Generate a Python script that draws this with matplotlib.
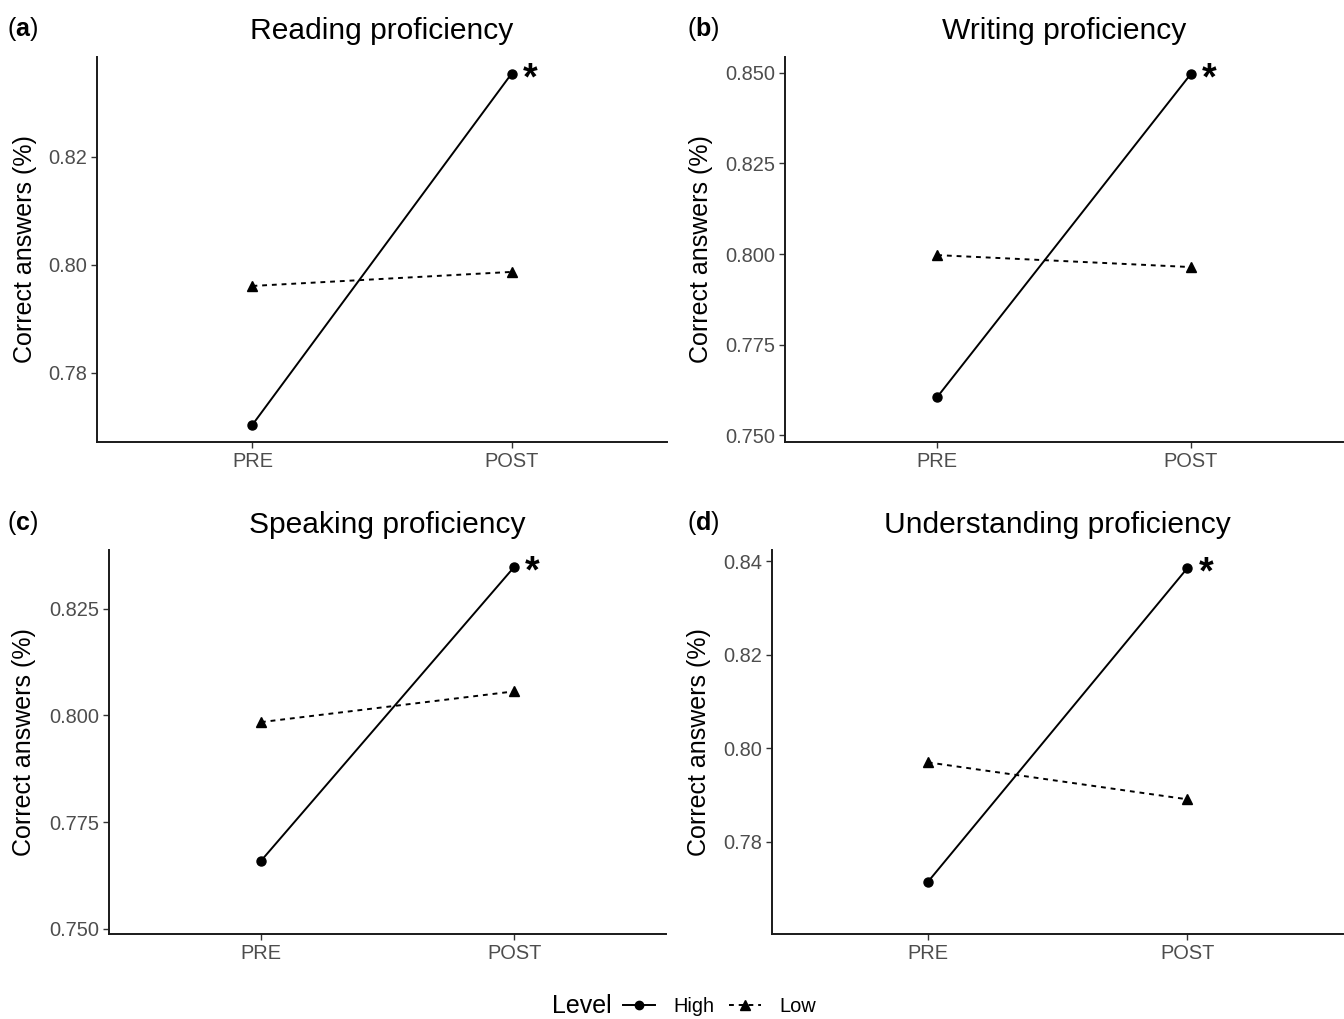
import matplotlib
matplotlib.use("Agg")
import matplotlib.pyplot as plt
from matplotlib.lines import Line2D

plt.rcParams['font.family'] = ['Liberation Sans', 'DejaVu Sans']
plt.rcParams['mathtext.fontset'] = 'custom'
plt.rcParams['mathtext.rm'] = 'Liberation Sans'
plt.rcParams['mathtext.bf'] = 'Liberation Sans:bold'

# ---- data ----
categories = ["PRE", "POST"]
titles = ["Reading proficiency", "Writing proficiency",
          "Speaking proficiency", "Understanding proficiency"]
panel_letters = ["a", "b", "c", "d"]

reading_high = [0.7704, 0.8354]
reading_low = [0.7961, 0.7987]
writing_high = [0.7605, 0.8497]
writing_low = [0.7997, 0.7964]
speaking_high = [0.7659, 0.8347]
speaking_low = [0.7984, 0.8056]
understanding_high = [0.7714, 0.8385]
understanding_low = [0.7970, 0.7891]

high_series = [reading_high, writing_high, speaking_high, understanding_high]
low_series = [reading_low, writing_low, speaking_low, understanding_low]

yticks_a = [0.78, 0.80, 0.82]
yticks_b = [0.750, 0.775, 0.800, 0.825, 0.850]
yticks_c = [0.750, 0.775, 0.800, 0.825]
yticks_d = [0.78, 0.80, 0.82, 0.84]
yticks_all = [yticks_a, yticks_b, yticks_c, yticks_d]
ytick_fmt = ["{:.2f}", "{:.3f}", "{:.3f}", "{:.2f}"]
ylims = [(0.7672, 0.8385), (0.7481, 0.8544), (0.7488, 0.8387), (0.7603, 0.8424)]

# ---- layout (pixels of a 1344x1019 figure) ----
W, H = 1344, 1019
fig = plt.figure(figsize=(W / 100, H / 100), dpi=100)
boxes_px = [(97, 667, 57, 442), (785, 1343, 57, 442),
            (109, 666, 550, 934), (772, 1343, 550, 934)]
ylabel_x = [-0.105, -0.129, -0.131, -0.107]
title_y_px = [31, 31, 525, 525]
letter_y_px = [29, 29, 523, 523]
letter_x_px = [7, 687, 7, 687]

tick_color = "#4d4d4d"
for i in range(4):
    l, r, t, b = boxes_px[i]
    ax = fig.add_axes([l / W, 1 - b / H, (r - l) / W, (b - t) / H])
    x = list(range(1, len(categories) + 1))
    ax.plot(x, high_series[i], color="black", lw=1.4, ls="-",
            marker="o", ms=6.5, label="High")
    ax.plot(x, low_series[i], color="black", lw=1.4, ls=(0, (2.5, 2.5)),
            marker="^", ms=7, label="Low")
    ax.annotate("*", xy=(x[1], high_series[i][1]), xytext=(8, -4),
                textcoords="offset points", ha="left", va="center",
                fontsize=27, fontweight="bold")
    ax.set_xlim(0.4, 2.6)
    ax.set_ylim(*ylims[i])
    ax.set_xticks(x)
    ax.set_xticklabels(categories)
    ax.set_yticks(yticks_all[i])
    ax.set_yticklabels([ytick_fmt[i].format(v) for v in yticks_all[i]])
    ax.tick_params(axis="both", colors="#333333", labelcolor=tick_color,
                   labelsize=14.4, length=4, width=1.0, pad=3)
    for s in ["top", "right"]:
        ax.spines[s].set_visible(False)
    for s in ["left", "bottom"]:
        ax.spines[s].set_linewidth(1.4)
        ax.spines[s].set_color("#1a1a1a")
    ax.set_ylabel("Correct answers (%)", fontsize=18, color="black")
    ax.yaxis.set_label_coords(ylabel_x[i], 0.5)
    cx = (l + r) / 2 / W
    fig.text(cx, 1 - title_y_px[i] / H, titles[i], ha="center", va="center",
             fontsize=21.6)
    fig.text(letter_x_px[i] / W, 1 - letter_y_px[i] / H,
             "(" + r"$\mathbf{" + panel_letters[i] + "}$" + ")",
             ha="left", va="center", fontsize=18)

# ---- legend ----
handles = [Line2D([], [], color="black", lw=1.4, ls="-", marker="o", ms=6),
           Line2D([], [], color="black", lw=1.4, ls=(0, (2.5, 2.5)), marker="^", ms=6.5)]
fig.text(612 / W, 1 - 1006 / H, "Level", ha="right", va="center", fontsize=18)
fig.legend(handles, ["High", "Low"], loc="center left",
           bbox_to_anchor=(623 / W, 1 - 1006 / H), ncol=2, frameon=False,
           fontsize=14.4, handlelength=1.6, handletextpad=0.9,
           columnspacing=0.75, borderaxespad=0, borderpad=0)

fig.savefig("out.png", dpi=100, facecolor="white")
